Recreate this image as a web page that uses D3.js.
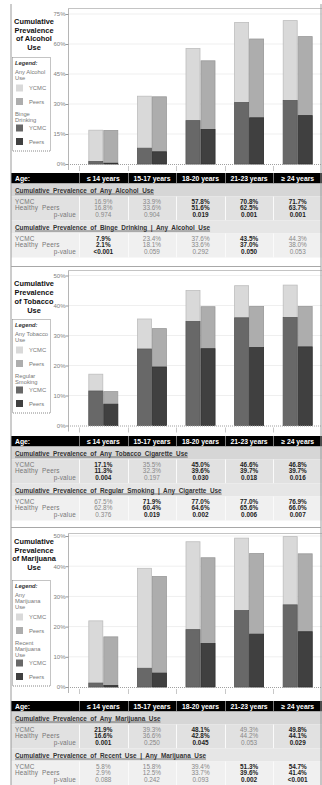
<!DOCTYPE html>
<html>
<head>
<meta charset="utf-8">
<script src="https://cdn.jsdelivr.net/npm/d3@7"></script>
<style>
	body { margin: 0; background: #fff; }
	svg { display: block; font-family: "Liberation Sans", Arial, sans-serif; }
</style>
</head>
<body>
<div id="chart"></div>
<script>

// x categories
var ageGroups = ["≤ 14 years", "15-17 years", "18-20 years", "21-23 years", "≥ 24 years"];

// alcohol
var alcoholAnyYcmc = [16.9, 33.9, 57.8, 70.8, 71.7];
var alcoholAnyPeers = [16.8, 33.6, 51.6, 62.5, 63.7];
var alcoholAnyP = ["0.974", "0.904", "0.019", "0.001", "0.001"];
var alcoholAnyBold = [false, false, true, true, true];
var alcoholBingeYcmc = [7.9, 23.4, 37.6, 43.5, 44.3];
var alcoholBingePeers = [2.1, 18.1, 33.6, 37.0, 38.0];
var alcoholBingeP = ["<0.001", "0.059", "0.292", "0.050", "0.053"];
var alcoholBingeBold = [true, false, false, true, false];
// dark bar heights (share of all respondents)
var alcoholBingeBarYcmc = [1.3, 7.9, 21.7, 30.8, 31.8];
var alcoholBingeBarPeers = [0.4, 6.1, 17.3, 23.1, 24.2];
var alcoholTicks = [0, 15, 30, 45, 60, 75];

// tobacco
var tobaccoAnyYcmc = [17.1, 35.5, 45.0, 46.6, 46.8];
var tobaccoAnyPeers = [11.3, 32.3, 39.6, 39.7, 39.7];
var tobaccoAnyP = ["0.004", "0.197", "0.030", "0.018", "0.016"];
var tobaccoAnyBold = [true, false, true, true, true];
var tobaccoRegularYcmc = [67.5, 71.9, 77.0, 77.0, 76.9];
var tobaccoRegularPeers = [62.8, 60.4, 64.6, 65.6, 66.0];
var tobaccoRegularP = ["0.376", "0.019", "0.002", "0.006", "0.007"];
var tobaccoRegularBold = [false, true, true, true, true];
var tobaccoRegularBarYcmc = [11.5, 25.5, 34.7, 35.9, 36.0];
var tobaccoRegularBarPeers = [7.1, 19.5, 25.6, 26.0, 26.2];
var tobaccoTicks = [0, 10, 20, 30, 40, 50];

// marijuana
var marijuanaAnyYcmc = [21.9, 39.3, 48.1, 49.3, 49.8];
var marijuanaAnyPeers = [16.6, 36.6, 42.8, 44.2, 44.1];
var marijuanaAnyP = ["0.001", "0.250", "0.045", "0.053", "0.029"];
var marijuanaAnyBold = [true, false, true, false, true];
var marijuanaRecentYcmc = [5.8, 15.8, 39.4, 51.3, 54.7];
var marijuanaRecentPeers = [2.9, 12.5, 33.7, 39.6, 41.4];
var marijuanaRecentP = ["0.088", "0.242", "0.093", "0.002", "<0.001"];
var marijuanaRecentBold = [false, false, false, true, true];
var marijuanaRecentBarYcmc = [1.3, 6.2, 19.0, 25.3, 27.2];
var marijuanaRecentBarPeers = [0.5, 4.6, 14.4, 17.5, 18.3];
var marijuanaTicks = [0, 10, 20, 30, 40, 50];

var colors = {
	anyYcmc: "#d9d9d9",
	anyPeers: "#adadad",
	subYcmc: "#686868",
	subPeers: "#404040"
};

var width = 322;
var height = 785;
var left = 11;
var right = 321;

var panels = [
	{
		title: ["Cumulative", "Prevalence", "of Alcohol", "Use"],
		legendAny: ["Any Alcohol", "Use"],
		legendSub: ["Binge", "Drinking"],
		ticks: alcoholTicks,
		anyYcmc: alcoholAnyYcmc, anyPeers: alcoholAnyPeers,
		subYcmc: alcoholBingeBarYcmc, subPeers: alcoholBingeBarPeers,
		sections: [
			{ label: "Cumulative Prevalence of Any Alcohol Use", ycmc: alcoholAnyYcmc, peers: alcoholAnyPeers, p: alcoholAnyP, bold: alcoholAnyBold },
			{ label: "Cumulative Prevalence of Binge Drinking | Any Alcohol Use", ycmc: alcoholBingeYcmc, peers: alcoholBingePeers, p: alcoholBingeP, bold: alcoholBingeBold }
		],
		frameTop: 8, tickTop: 14, zero: 164, header: 173, titleY: 21, legendTop: 57
	},
	{
		title: ["Cumulative", "Prevalence", "of Tobacco", "Use"],
		legendAny: ["Any Tobacco", "Use"],
		legendSub: ["Regular", "Smoking"],
		ticks: tobaccoTicks,
		anyYcmc: tobaccoAnyYcmc, anyPeers: tobaccoAnyPeers,
		subYcmc: tobaccoRegularBarYcmc, subPeers: tobaccoRegularBarPeers,
		sections: [
			{ label: "Cumulative Prevalence of Any Tobacco Cigarette Use", ycmc: tobaccoAnyYcmc, peers: tobaccoAnyPeers, p: tobaccoAnyP, bold: tobaccoAnyBold },
			{ label: "Cumulative Prevalence of Regular Smoking | Any Cigarette Use", ycmc: tobaccoRegularYcmc, peers: tobaccoRegularPeers, p: tobaccoRegularP, bold: tobaccoRegularBold }
		],
		frameTop: 270, tickTop: 275.5, zero: 425.5, header: 436, titleY: 283.5, legendTop: 319
	},
	{
		title: ["Cumulative", "Prevalence", "of Marijuana", "Use"],
		legendAny: ["Any", "Marijuana", "Use"],
		legendSub: ["Recent", "Marijuana", "Use"],
		ticks: marijuanaTicks,
		anyYcmc: marijuanaAnyYcmc, anyPeers: marijuanaAnyPeers,
		subYcmc: marijuanaRecentBarYcmc, subPeers: marijuanaRecentBarPeers,
		sections: [
			{ label: "Cumulative Prevalence of Any Marijuana Use", ycmc: marijuanaAnyYcmc, peers: marijuanaAnyPeers, p: marijuanaAnyP, bold: marijuanaAnyBold },
			{ label: "Cumulative Prevalence of Recent Use | Any Marijuana Use", ycmc: marijuanaRecentYcmc, peers: marijuanaRecentPeers, p: marijuanaRecentP, bold: marijuanaRecentBold }
		],
		frameTop: 533, tickTop: 536, zero: 687, header: 701, titleY: 541, legendTop: 580
	}
];

var svg = d3.select("#chart")
	.append("svg")
	.attr("width", width)
	.attr("height", height);

// table columns and bar groups share one band scale
var x = d3.scaleBand()
	.domain(ageGroups)
	.range([79, 322]);

var xSub = d3.scaleBand()
	.domain(["YCMC", "Peers"])
	.range([-15, 15]);

var plotLeft = 68;

panels.forEach(function(p) {
	drawChart(p);
	drawLegend(p);
	drawTable(p);
});

// outer border + panel separators
svg.append("line").attr("x1", left).attr("x2", left).attr("y1", 4).attr("y2", height)
	.attr("stroke", "#9a9a9a").attr("stroke-width", 1);
svg.append("line").attr("x1", right).attr("x2", right).attr("y1", 4).attr("y2", height)
	.attr("stroke", "#9a9a9a").attr("stroke-width", 1);
[266.5, 527.5].forEach(function(yy) {
	svg.append("line").attr("x1", left).attr("x2", right).attr("y1", yy).attr("y2", yy)
		.attr("stroke", "#a8a8a8").attr("stroke-width", 1);
});

function drawChart(p) {

	var yMax = p.ticks[p.ticks.length - 1];
	var y = d3.scaleLinear()
		.domain([0, yMax])
		.range([p.zero, p.tickTop]);

	var g = svg.append("g");

	// gridlines
	g.selectAll("line.grid")
		.data(p.ticks.slice(1))
		.enter()
		.append("line")
		.attr("class", "grid")
		.attr("x1", plotLeft).attr("x2", 322)
		.attr("y1", function(d) { return y(d); })
		.attr("y2", function(d) { return y(d); })
		.attr("stroke", "#efefef");

	// frame
	g.append("line")
		.attr("x1", plotLeft + 0.5).attr("x2", plotLeft + 0.5)
		.attr("y1", p.frameTop).attr("y2", p.zero + 6)
		.attr("stroke", "#b5b5b5");
	g.append("line")
		.attr("x1", plotLeft).attr("x2", 322)
		.attr("y1", p.frameTop + 0.5).attr("y2", p.frameTop + 0.5)
		.attr("stroke", "#c4c4c4");

	// y axis
	var axis = g.append("g")
		.attr("transform", "translate(" + (plotLeft + 0.5) + ",0)")
		.call(d3.axisLeft(y)
			.tickValues(p.ticks)
			.tickSize(3)
			.tickFormat(function(d) { return d + "%"; }));
	axis.select(".domain").remove();
	axis.selectAll(".tick line").attr("stroke", "#999");
	axis.selectAll(".tick text")
		.attr("x", -3)
		.attr("fill", "#808080")
		.style("font-size", "6px")
		.style("font-family", "'Liberation Sans', Arial, sans-serif");

	// x ticks between groups
	g.selectAll("line.xtick")
		.data(ageGroups)
		.enter()
		.append("line")
		.attr("class", "xtick")
		.attr("x1", function(d) { return Math.round(x(d)) + 0.5; })
		.attr("x2", function(d) { return Math.round(x(d)) + 0.5; })
		.attr("y1", p.zero + 2).attr("y2", p.zero + 7)
		.attr("stroke", "#c8c8c8");

	var rows = ageGroups.map(function(a, i) {
		return { age: a, anyYcmc: p.anyYcmc[i], anyPeers: p.anyPeers[i], subYcmc: p.subYcmc[i], subPeers: p.subPeers[i] };
	});

	var barW = xSub.bandwidth();
	var center = function(d) { return x(d.age) + x.bandwidth() / 2; };

	var series = [
		{ key: "anyYcmc", sub: "YCMC", fill: colors.anyYcmc, stroke: "#bdbdbd" },
		{ key: "anyPeers", sub: "Peers", fill: colors.anyPeers, stroke: "#999" },
		{ key: "subYcmc", sub: "YCMC", fill: colors.subYcmc, stroke: "#5a5a5a" },
		{ key: "subPeers", sub: "Peers", fill: colors.subPeers, stroke: "#333" }
	];

	series.forEach(function(s) {
		g.selectAll("rect." + s.key)
			.data(rows)
			.enter()
			.append("rect")
			.attr("class", s.key)
			.attr("x", function(d) { return center(d) + xSub(s.sub) + 0.5; })
			.attr("width", barW - 1)
			.attr("y", function(d) { return y(d[s.key]); })
			.attr("height", function(d) { return p.zero - y(d[s.key]); })
			.attr("fill", s.fill)
			.attr("stroke", s.stroke)
			.attr("stroke-width", 0.8);
	});

	// zero line (dotted)
	g.append("line")
		.attr("x1", plotLeft).attr("x2", 322)
		.attr("y1", p.zero + 0.5).attr("y2", p.zero + 0.5)
		.attr("stroke", "#a0a0a0")
		.attr("stroke-dasharray", "1,1");

	// title on the left
	g.append("text")
		.attr("text-anchor", "middle")
		.attr("font-weight", "bold")
		.attr("font-size", "7.4px")
		.attr("fill", "#111")
		.selectAll("tspan")
		.data(p.title)
		.enter()
		.append("tspan")
		.attr("x", 34)
		.attr("y", function(d, i) { return p.titleY + 2.7 + i * 8.8; })
		.text(function(d) { return d; });
}

function drawLegend(p) {

	var g = svg.append("g");
	var fs = 5.8;
	var cur = p.legendTop + 6;
	var items = [];

	items.push({ type: "head", text: "Legend:", y: cur });
	cur += 9;
	p.legendAny.forEach(function(t) { items.push({ type: "text", text: t, y: cur }); cur += 6; });
	cur += 4;
	items.push({ type: "sq", text: "YCMC", fill: colors.anyYcmc, y: cur }); cur += 13.5;
	items.push({ type: "sq", text: "Peers", fill: colors.anyPeers, y: cur }); cur += 12;
	p.legendSub.forEach(function(t) { items.push({ type: "text", text: t, y: cur }); cur += 6; });
	cur += 2.5;
	items.push({ type: "sq", text: "YCMC", fill: colors.subYcmc, y: cur }); cur += 13.5;
	items.push({ type: "sq", text: "Peers", fill: colors.subPeers, y: cur }); cur += 9;

	g.append("rect")
		.attr("x", 12.5).attr("y", p.legendTop + 0.5)
		.attr("width", 38).attr("height", cur - p.legendTop)
		.attr("fill", "none")
		.attr("stroke", "#888")
		.attr("stroke-dasharray", "1,1");

	g.selectAll("text")
		.data(items)
		.enter()
		.append("text")
		.attr("x", function(d) { return d.type == "sq" ? 29 : 15; })
		.attr("y", function(d) { return d.y + 2; })
		.attr("font-size", fs + "px")
		.attr("font-weight", function(d) { return d.type == "head" ? "bold" : "normal"; })
		.attr("font-style", function(d) { return d.type == "head" ? "italic" : "normal"; })
		.attr("fill", function(d) { return d.type == "head" ? "#333" : "#777"; })
		.text(function(d) { return d.text; });

	g.selectAll("rect.sq")
		.data(items.filter(function(d) { return d.type == "sq"; }))
		.enter()
		.append("rect")
		.attr("class", "sq")
		.attr("x", 16).attr("y", function(d) { return d.y - 3.5; })
		.attr("width", 7).attr("height", 7)
		.attr("fill", function(d) { return d.fill; });
}

function drawTable(p) {

	var g = svg.append("g").attr("transform", "translate(0," + p.header + ")");
	var cols = ageGroups;

	// header
	g.append("rect")
		.attr("x", left).attr("y", 0).attr("width", 322 - left).attr("height", 10.5)
		.attr("fill", "#000");
	g.selectAll("line.hsep")
		.data(cols)
		.enter()
		.append("line")
		.attr("x1", function(d) { return Math.round(x(d)) + 0.5; })
		.attr("x2", function(d) { return Math.round(x(d)) + 0.5; })
		.attr("y1", 0).attr("y2", 10.5)
		.attr("stroke", "#777");
	g.append("text")
		.attr("x", 15).attr("y", 7.5)
		.attr("font-size", "6.8px").attr("font-weight", "bold").attr("fill", "#fff")
		.text("Age:");
	g.selectAll("text.hcol")
		.data(cols)
		.enter()
		.append("text")
		.attr("class", "hcol")
		.attr("x", function(d) { return x(d) + x.bandwidth() / 2; })
		.attr("y", 7.5)
		.attr("text-anchor", "middle")
		.attr("font-size", "6.8px").attr("font-weight", "bold").attr("fill", "#fff")
		.text(function(d) { return d; });

	var sectionTop = [10.5, 47.5];
	var titleBg = ["#d6d6d6", "#e6e6e6"];
	var dataBg = ["#e1e1e1", "#f0f0f0"];

	p.sections.forEach(function(s, si) {
		var t = sectionTop[si];
		var sg = g.append("g").attr("transform", "translate(0," + t + ")");

		sg.append("rect")
			.attr("x", left).attr("y", 0).attr("width", 322 - left).attr("height", 13)
			.attr("fill", titleBg[si]);
		sg.append("rect")
			.attr("x", left).attr("y", 13).attr("width", 322 - left).attr("height", 24)
			.attr("fill", dataBg[si]);
		sg.selectAll("line.csep")
			.data(cols)
			.enter()
			.append("line")
			.attr("x1", function(d) { return Math.round(x(d)) + 0.5; })
			.attr("x2", function(d) { return Math.round(x(d)) + 0.5; })
			.attr("y1", 13).attr("y2", 37)
			.attr("stroke", "#fafafa");

		sg.append("text")
			.attr("x", 15).attr("y", 9.2)
			.attr("font-size", "6.4px").attr("font-weight", "bold").attr("fill", "#333")
			.attr("text-decoration", "underline")
			.attr("word-spacing", "1.8px")
			.text(s.label);

		var labels = [
			{ t: "YCMC", y: 20 },
			{ t: "Healthy  Peers", y: 26.5 },
			{ t: "p-value", y: 33 }
		];
		sg.selectAll("text.lab")
			.data(labels)
			.enter()
			.append("text")
			.attr("class", "lab")
			.attr("x", function(d, i) { return i == 2 ? 76 : 15; })
			.attr("text-anchor", function(d, i) { return i == 2 ? "end" : "start"; })
			.attr("y", function(d) { return d.y; })
			.attr("font-size", "6.4px").attr("fill", "#777")
			.attr("letter-spacing", "0.2px")
			.style("white-space", "pre")
			.text(function(d) { return d.t; });

		var cells = [];
		cols.forEach(function(c, i) {
			cells.push({ col: c, y: 20, t: s.ycmc[i].toFixed(1) + "%", b: s.bold[i] });
			cells.push({ col: c, y: 26.5, t: s.peers[i].toFixed(1) + "%", b: s.bold[i] });
			cells.push({ col: c, y: 33, t: s.p[i], b: s.bold[i] });
		});
		sg.selectAll("text.val")
			.data(cells)
			.enter()
			.append("text")
			.attr("class", "val")
			.attr("x", function(d) { return x(d.col) + x.bandwidth() / 2; })
			.attr("y", function(d) { return d.y; })
			.attr("text-anchor", "middle")
			.attr("font-size", "6.4px")
			.attr("font-weight", function(d) { return d.b ? "bold" : "normal"; })
			.attr("fill", function(d) { return d.b ? "#222" : "#888"; })
			.text(function(d) { return d.t; });
	});
}
</script>
</body>
</html>
